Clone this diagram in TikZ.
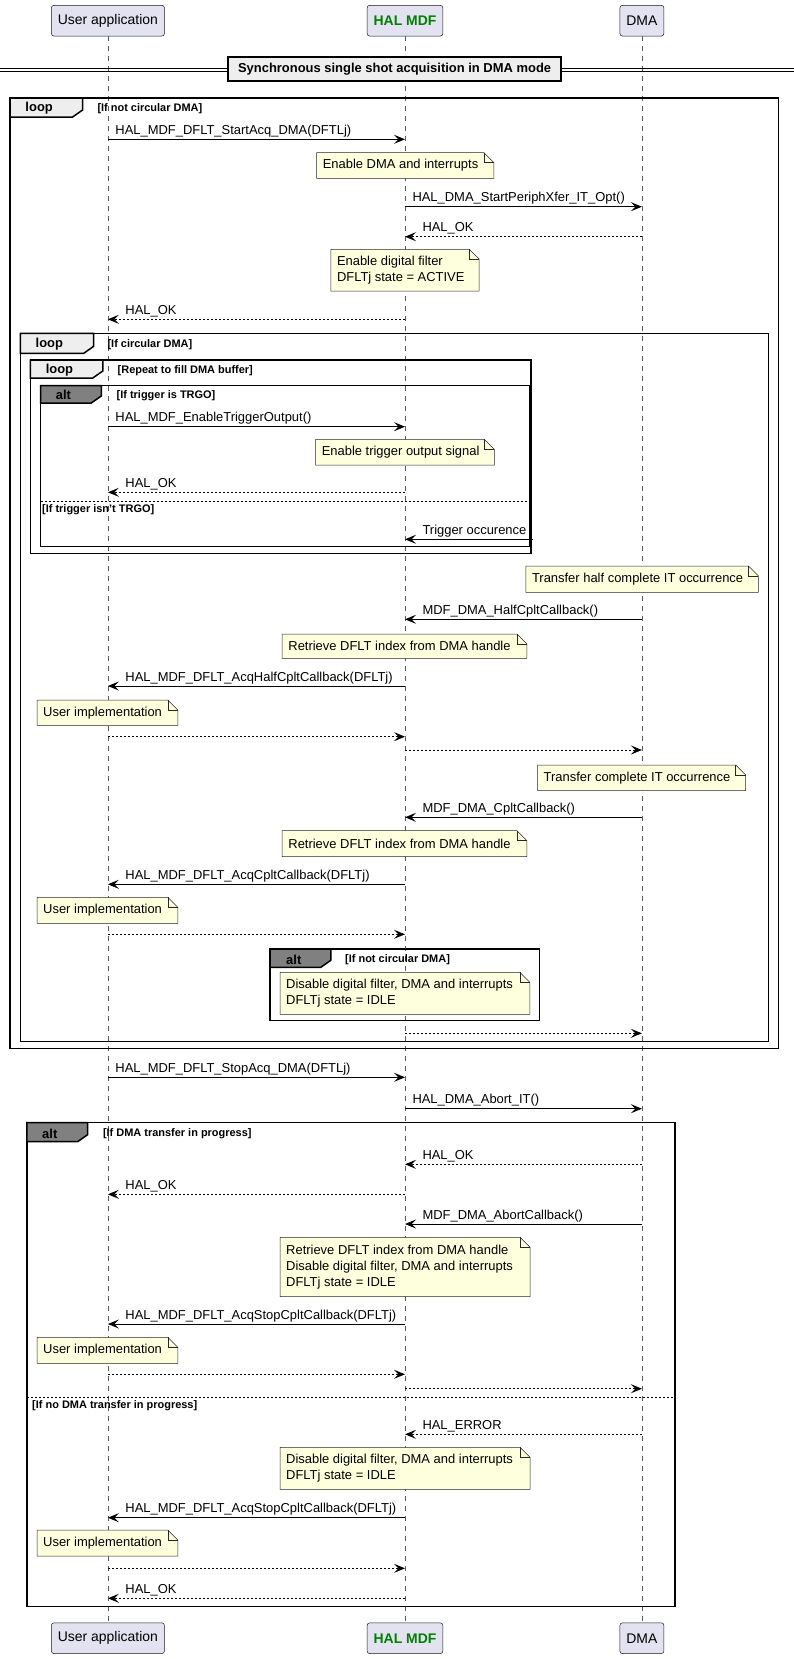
\documentclass[tikz,border=0pt]{standalone}
\usepackage{fontspec}
\setmainfont{Liberation Sans}
\usetikzlibrary{arrows.meta}

\definecolor{partfill}{HTML}{E2E2F0}
\definecolor{notefill}{HTML}{FEFFDD}
\definecolor{tabfill}{HTML}{EEEEEE}
\definecolor{alttab}{HTML}{808080}
\definecolor{halgreen}{HTML}{008000}

\tikzset{
  part/.style={draw=black!90, line width=0.5bp, fill=partfill, rounded corners=2.5bp,
    minimum height=30.7bp, inner xsep=6.5bp, font=\fontsize{14}{16}\selectfont},
  life/.style={black!65, line width=0.6bp, dash pattern=on 5bp off 5bp},
  msg/.style={line width=1bp, -{Stealth[length=11bp,width=9bp,inset=4.5bp]}},
  ret/.style={msg, dash pattern=on 2bp off 2bp},
  lbl/.style={anchor=base west, inner sep=0, yshift=5bp, font=\fontsize{13}{15}\selectfont},
  rlbl/.style={lbl, xshift=7bp},
  llbl/.style={lbl, xshift=17bp},
  frm/.style={draw=black, line width=1.5bp},
  kw/.style={anchor=west, inner sep=0, font=\bfseries\fontsize{13}{15}\selectfont},
  cond/.style={anchor=west, inner sep=0, font=\bfseries\fontsize{11}{13}\selectfont},
  sep/.style={line width=1bp, dash pattern=on 2bp off 2bp},
  notebox/.style={draw=black!85, line width=0.5bp, fill=notefill},
  notetext/.style={anchor=west, align=left, inner sep=0, font=\fontsize{13}{16.3}\selectfont},
  divbox/.style={draw=black, line width=1.8bp, fill=tabfill, minimum width=333bp,
    minimum height=24bp, font=\bfseries\fontsize{13}{15}\selectfont}
}

% note with folded corner: name, x1, y1, x2, y2, text
\newcommand{\sqnote}[6]{%
  \filldraw[notebox] (#2,#3) -- (#4-10,#3) -- (#4,#3+10) -- (#4,#5) -- (#2,#5) -- cycle;
  \draw[notebox, fill=none] (#4-10,#3) -- (#4-10,#3+10) -- (#4,#3+10);
  \node[notetext] (#1) at (#2+6,#3/2+#5/2) {#6};
}
% group frame: left, top, right, bottom, tab right, tab bottom, tab colour
\newcommand{\grpframe}[7]{%
  \draw[frm] (#1,#2) rectangle (#3,#4);
  \filldraw[frm, fill=#7] (#1,#2) -- (#5,#2) -- (#5,#6-7) -- (#5-10,#6) -- (#1,#6) -- cycle;
}

\begin{document}
\begin{tikzpicture}[x=1bp, y=-1bp]
    \useasboundingbox (0,0) rectangle (794,1659);

    % Participants
    \node[part] (uh) at (107.9,20.7) {User application};
    \node[part, text=halgreen, font=\bfseries\fontsize{14}{16}\selectfont] (hh) at (405,20.7) {HAL MDF};
    \node[part] (dh) at (641.9,20.7) {DMA};
    \node[part] (uf) at (107.9,1638.2) {User application};
    \node[part, text=halgreen, font=\bfseries\fontsize{14}{16}\selectfont] (hf) at (405,1638.2) {HAL MDF};
    \node[part] (df) at (641.9,1638.2) {DMA};

    % Lifelines
    \draw[life] (uh.south) -- (uf.north);
    \draw[life] (hh.south) -- (hf.north);
    \draw[life] (dh.south) -- (df.north);

    % Divider
    \draw[line width=1bp] (0,68.7) -- (794,68.7);
    \draw[line width=1bp] (0,71.7) -- (794,71.7);
    \node[divbox] (div) at (394.6,69.3) {Synchronous single shot acquisition in DMA mode};

    % Groups
    \grpframe{10.1}{98}{778.7}{1048.3}{82.6}{117}{tabfill}
    \node[kw] (k1) at (25.3,108.5) {loop};
    \node[cond] (c1) at (97.3,108.7) {[If not circular DMA]};

    \grpframe{20.3}{333.3}{768.5}{1041.3}{93.7}{353.3}{tabfill}
    \node[kw] (k2) at (35.5,344.5) {loop};
    \node[cond] (c2) at (107.4,345) {[If circular DMA]};

    \grpframe{30.4}{360}{530.9}{553.3}{102.8}{378}{tabfill}
    \node[kw] (k3) at (45.6,370.5) {loop};
    \node[cond] (c3) at (117.5,371) {[Repeat to fill DMA buffer]};

    \grpframe{40.5}{385.7}{529.4}{546.7}{101.3}{403}{alttab}
    \node[kw] (k4) at (55.7,395.2) {alt};
    \node[cond] (c4) at (116.5,395.7) {[If trigger is TRGO]};
    \draw[sep] (40.5,501.3) -- (529.4,501.3);
    \node[cond] (c5) at (42,510) {[If trigger isn't TRGO]};

    \grpframe{270}{949}{539.5}{1020.7}{330.8}{967.3}{alttab}
    \node[kw] (k5) at (286,959.5) {alt};
    \node[cond] (c6) at (345,959.3) {[If not circular DMA]};

    \grpframe{26.9}{1122.7}{674.8}{1606.7}{87.6}{1141.7}{alttab}
    \node[kw] (k6) at (42,1133.5) {alt};
    \node[cond] (c7) at (102.8,1133.3) {[If DMA transfer in progress]};
    \draw[sep] (26.9,1397.3) -- (674.8,1397.3);
    \node[cond] (c8) at (32,1406) {[If no DMA transfer in progress]};

    % Notes
    \sqnote{n1}{316.6}{152.7}{493.9}{178.3}{Enable DMA and interrupts}
    \sqnote{n2}{330.8}{249.3}{479.2}{291}{Enable digital filter\\DFLTj state = ACTIVE}
    \sqnote{n3}{315.6}{439.3}{494.4}{465}{Enable trigger output signal}
    \sqnote{n4}{525.8}{566}{758.4}{592.3}{Transfer half complete IT occurrence}
    \sqnote{n5}{282.2}{634}{526.9}{658.3}{Retrieve DFLT index from DMA handle}
    \sqnote{n6}{37}{700}{177.8}{725.3}{User implementation}
    \sqnote{n7}{537.5}{765}{745.7}{790.7}{Transfer complete IT occurrence}
    \sqnote{n8}{282.2}{830.7}{526.9}{856.7}{Retrieve DFLT index from DMA handle}
    \sqnote{n9}{37}{897.3}{177.8}{923.3}{User implementation}
    \sqnote{n10}{280}{972.3}{529.9}{1014.3}{Disable digital filter, DMA and interrupts\\DFLTj state = IDLE}
    \sqnote{n11}{280}{1237.3}{530}{1296.7}{Retrieve DFLT index from DMA handle\\Disable digital filter, DMA and interrupts\\DFLTj state = IDLE}
    \sqnote{n12}{37}{1337.3}{177.8}{1363.3}{User implementation}
    \sqnote{n13}{280}{1447.3}{530}{1489.3}{Disable digital filter, DMA and interrupts\\DFLTj state = IDLE}
    \sqnote{n14}{37}{1530}{177.8}{1556}{User implementation}

    % Messages
    \draw[msg] (uh |- 0,139.3) -- node[pos=0, rlbl] {HAL\_MDF\_DFLT\_StartAcq\_DMA(DFTLj)} (hh |- 0,139.3);
    \draw[msg] (hh |- 0,206.7) -- node[pos=0, rlbl] {HAL\_DMA\_StartPeriphXfer\_IT\_Opt()} (dh |- 0,206.7);
    \draw[ret] (dh |- 0,236.7) -- node[pos=1, llbl] {HAL\_OK} (hh |- 0,236.7);
    \draw[ret] (hh |- 0,319.3) -- node[pos=1, llbl] {HAL\_OK} (uh |- 0,319.3);

    \draw[msg] (uh |- 0,426.7) -- node[pos=0, rlbl] {HAL\_MDF\_EnableTriggerOutput()} (hh |- 0,426.7);
    \draw[ret] (hh |- 0,492.3) -- node[pos=1, llbl] {HAL\_OK} (uh |- 0,492.3);
    \coordinate (trg) at (533,539.3);
    \draw[msg] (trg) -- node[pos=1, llbl] {Trigger occurence} (hh |- trg);

    \draw[msg] (dh |- 0,619.3) -- node[pos=1, llbl] {MDF\_DMA\_HalfCpltCallback()} (hh |- 0,619.3);
    \draw[msg] (hh |- 0,686) -- node[pos=1, llbl] {HAL\_MDF\_DFLT\_AcqHalfCpltCallback(DFLTj)} (uh |- 0,686);
    \draw[ret] (uh |- 0,736.7) -- (hh |- 0,736.7);
    \draw[ret] (hh |- 0,750) -- (dh |- 0,750);
    \draw[msg] (dh |- 0,817.3) -- node[pos=1, llbl] {MDF\_DMA\_CpltCallback()} (hh |- 0,817.3);
    \draw[msg] (hh |- 0,884.3) -- node[pos=1, llbl] {HAL\_MDF\_DFLT\_AcqCpltCallback(DFLTj)} (uh |- 0,884.3);
    \draw[ret] (uh |- 0,934.3) -- (hh |- 0,934.3);
    \draw[ret] (hh |- 0,1033.3) -- (dh |- 0,1033.3);

    \draw[msg] (uh |- 0,1077.3) -- node[pos=0, rlbl] {HAL\_MDF\_DFLT\_StopAcq\_DMA(DFTLj)} (hh |- 0,1077.3);
    \draw[msg] (hh |- 0,1108.7) -- node[pos=0, rlbl] {HAL\_DMA\_Abort\_IT()} (dh |- 0,1108.7);
    \draw[ret] (dh |- 0,1164.3) -- node[pos=1, llbl] {HAL\_OK} (hh |- 0,1164.3);
    \draw[ret] (hh |- 0,1194.3) -- node[pos=1, llbl] {HAL\_OK} (uh |- 0,1194.3);
    \draw[msg] (dh |- 0,1224) -- node[pos=1, llbl] {MDF\_DMA\_AbortCallback()} (hh |- 0,1224);
    \draw[msg] (hh |- 0,1324) -- node[pos=1, llbl] {HAL\_MDF\_DFLT\_AcqStopCpltCallback(DFLTj)} (uh |- 0,1324);
    \draw[ret] (uh |- 0,1374.3) -- (hh |- 0,1374.3);
    \draw[ret] (hh |- 0,1388.7) -- (dh |- 0,1388.7);

    \draw[ret] (dh |- 0,1434.3) -- node[pos=1, llbl] {HAL\_ERROR} (hh |- 0,1434.3);
    \draw[msg] (hh |- 0,1517.7) -- node[pos=1, llbl] {HAL\_MDF\_DFLT\_AcqStopCpltCallback(DFLTj)} (uh |- 0,1517.7);
    \draw[ret] (uh |- 0,1568.3) -- (hh |- 0,1568.3);
    \draw[ret] (hh |- 0,1598.3) -- node[pos=1, llbl] {HAL\_OK} (uh |- 0,1598.3);
\end{tikzpicture}
\end{document}
